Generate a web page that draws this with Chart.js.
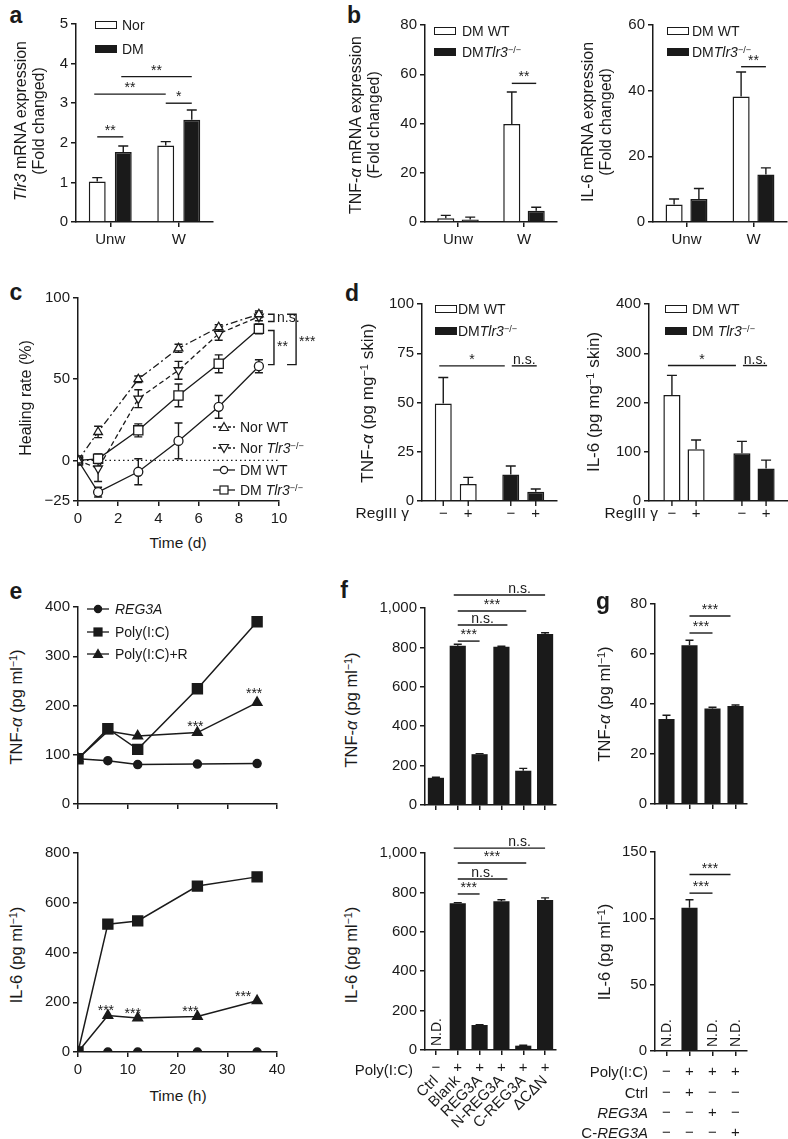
<!DOCTYPE html>
<html>
<head>
<meta charset="UTF-8">
<script src="https://cdn.jsdelivr.net/npm/chart.js"></script>
<style>
  body { margin: 0; background: #fff; }
  #fig { position: relative; width: 788px; height: 1139px; overflow: hidden;
         font-family: "Liberation Sans", Arial, Helvetica, sans-serif; color: #1a1a1a; }
  #fig canvas { position: absolute; }
  .t { position: absolute; white-space: nowrap; font-size: 14px; line-height: 18px; text-align: center; }
  .t sup { font-size: 0.65em; vertical-align: baseline; position: relative; top: -0.45em; }
  .sw { position: absolute; width: 22px; height: 8px; box-sizing: border-box; border: 1.5px solid #1a1a1a; }
  .sym { position: absolute; }
</style>
</head>
<body>
<div id="fig"></div>
<script>
// ---------- data ----------
// a
const uwCats = ['Unw', 'W'];
const tlr3Nor = [1.02, 1.93], tlr3NorErr = [0.1, 0.1];
const tlr3DM = [1.77, 2.58], tlr3DMErr = [0.15, 0.25];
// b
const tnfB_wt = [1.5, 39.8], tnfB_wtErr = [1.2, 13];
const tnfB_ko = [1.0, 4.6], tnfB_koErr = [1.0, 1.4];
const il6B_wt = [5.3, 38.2], il6B_wtErr = [1.7, 7.5];
const il6B_ko = [7.0, 14.5], il6B_koErr = [3.2, 2.0];
// c
const days = [0, 1, 3, 5, 7, 9];
const norWT = [0, 17.5, 50, 69, 82, 90], norWTErr = [0, 3.5, 2, 2.5, 1.5, 2];
const norKO = [0, -5, 38, 55.5, 78, 88.5], norKOErr = [0, 8, 5.5, 5.5, 4, 2.5];
const dmWT = [0, -19.5, -7, 12, 33, 58], dmWTErr = [0, 3, 8, 11, 7, 4];
const dmKO = [0, 1, 18.5, 40, 59.5, 81], dmKOErr = [0, 3, 4, 7, 5.5, 3];
// d  (RegIII gamma -, +)
const regSigns = ['\u2212', '+'];
const tnfD_wt = [49.5, 8.6], tnfD_wtErr = [13.2, 3.4];
const tnfD_ko = [13.4, 4.7], tnfD_koErr = [4.4, 1.4];
const il6D_wt = [215, 105], il6D_wtErr = [40, 19];
const il6D_ko = [97, 66], il6D_koErr = [24, 17];
// e
const hours = [0, 6, 12, 24, 36];
const tnfE_reg = [92, 88, 80, 81, 82];
const tnfE_pic = [92, 153, 111, 234, 370];
const tnfE_picR = [92, 148, 138, 145, 206];
const il6E_reg = [0, 0, 0, 0, 0];
const il6E_pic = [0, 514, 527, 667, 704];
const il6E_picR = [0, 147, 137, 143, 206];
// f
const fNames = ['Ctrl', 'Blank', 'REG3A', 'N-REG3A', 'C-REG3A', '\u0394C\u0394N'];
const fPoly = ['\u2212', '+', '+', '+', '+', '+'];
const tnfF = [138, 808, 258, 803, 174, 868], tnfFErr = [3, 8, 3, 3, 12, 6];
const il6F = [null, 745, 127, 755, 22, 762], il6FErr = [0, 3, 2, 8, 2, 10];
// g
const gPoly = ['\u2212', '+', '+', '+'];
const gCtrl = ['\u2212', '+', '\u2212', '\u2212'];
const gReg = ['\u2212', '\u2212', '+', '\u2212'];
const gCReg = ['\u2212', '\u2212', '\u2212', '+'];
const tnfG = [34, 63.5, 38.2, 39.2], tnfGErr = [1.5, 2, 0.5, 0.4];
const il6G = [null, 108, null, null], il6GErr = [0, 6, 0, 0];

// ---------- helpers ----------
const FF = '"Liberation Sans", Arial, Helvetica, sans-serif';
const INK = '#1a1a1a';
Chart.defaults.font.family = FF;
Chart.defaults.color = INK;
const fig = document.getElementById('fig');
const tickFont = { family: FF, size: 15 };
const minus = v => (v < 0 ? '\u2212' + Math.abs(v) : v.toLocaleString('en-US'));

// error bars, significance marks, brackets, N.D. labels
const extras = {
  id: 'extras',
  beforeDatasetsDraw(chart) {
    const o = chart.options.plugins.extras || {};
    const ctx = chart.ctx, ys = chart.scales.y, xs = chart.scales.x;
    ctx.save();
    ctx.strokeStyle = INK;
    if (o.zeroLine) {
      const y = ys.getPixelForValue(0);
      ctx.lineWidth = 1.4;
      ctx.setLineDash([1.5, 3]);
      ctx.beginPath();
      ctx.moveTo(xs.getPixelForValue(o.zeroLine[0]), y);
      ctx.lineTo(xs.getPixelForValue(o.zeroLine[1]), y);
      ctx.stroke();
      ctx.setLineDash([]);
    }
    ctx.lineWidth = 1.4;
    const cw = o.cap || 5;
    chart.data.datasets.forEach((ds, di) => {
      if (!ds.err) return;
      chart.getDatasetMeta(di).data.forEach((el, i) => {
        const raw = ds.data[i];
        const v = raw !== null && typeof raw === 'object' ? raw.y : raw;
        const e = ds.err[i];
        if (v == null || !e) return;
        (ds.errBoth ? [1, -1] : [1]).forEach(sg => {
          const y0 = ys.getPixelForValue(v), y1 = ys.getPixelForValue(v + sg * e);
          ctx.beginPath();
          ctx.moveTo(el.x, y0); ctx.lineTo(el.x, y1);
          ctx.moveTo(el.x - cw, y1); ctx.lineTo(el.x + cw, y1);
          ctx.stroke();
        });
      });
    });
    ctx.restore();
  },
  afterDatasetsDraw(chart) {
    const o = chart.options.plugins.extras || {};
    const ctx = chart.ctx, ys = chart.scales.y, xs = chart.scales.x, ca = chart.chartArea;
    ctx.save();
    ctx.strokeStyle = INK; ctx.fillStyle = INK; ctx.lineWidth = 1.4;
    ctx.font = '14px ' + FF;
    ctx.textAlign = 'center'; ctx.textBaseline = 'alphabetic';
    (o.sig || []).forEach(s => {
      const ea = chart.getDatasetMeta(s.a[0]).data[s.a[1]];
      const eb = chart.getDatasetMeta(s.b[0]).data[s.b[1]];
      const x1 = ea.x + (s.d1 || 0), x2 = eb.x + (s.d2 || 0), y = ys.getPixelForValue(s.y);
      ctx.beginPath(); ctx.moveTo(x1, y); ctx.lineTo(x2, y); ctx.stroke();
      ctx.fillText(s.t, x1 + (x2 - x1) * (s.tx == null ? 0.5 : s.tx), y - 2);
    });
    (o.stars || []).forEach(s => {
      const el = chart.getDatasetMeta(s.ds).data[s.i];
      ctx.fillText('***', el.x + (s.dx || 0), el.y - s.dy);
    });
    (o.brackets || []).forEach(b => {
      const x1 = xs.getPixelForValue(b.x1), x2 = xs.getPixelForValue(b.x2);
      const y1 = ys.getPixelForValue(b.y1), y2 = ys.getPixelForValue(b.y2);
      ctx.beginPath();
      ctx.moveTo(x1, y1); ctx.lineTo(x2, y1); ctx.lineTo(x2, y2); ctx.lineTo(x1, y2);
      ctx.stroke();
      ctx.textAlign = 'left'; ctx.textBaseline = 'middle';
      ctx.fillText(b.t, x2 + 3, (y1 + y2) / 2 + (b.ty || 0));
    });
    (o.nd || []).forEach(i => {
      ctx.save();
      ctx.translate(xs.getPixelForValue(i), ca.bottom - 4);
      ctx.rotate(-Math.PI / 2);
      ctx.textAlign = 'left'; ctx.textBaseline = 'middle';
      ctx.fillText('N.D.', 0, 1);
      ctx.restore();
    });
    if (o.barTicks) {
      ctx.font = '15px ' + FF;
      ctx.textAlign = 'center'; ctx.textBaseline = 'middle';
      chart.data.datasets.forEach((ds, di) => {
        chart.getDatasetMeta(di).data.forEach(el => {
          ctx.beginPath(); ctx.moveTo(el.x, ca.bottom); ctx.lineTo(el.x, ca.bottom + 5); ctx.stroke();
          ctx.fillText(ds.label, el.x, ca.bottom + 13);
        });
      });
    }
    ctx.restore();
  }
};

function yScale(min, max, step, extra) {
  return Object.assign({
    min, max,
    ticks: { stepSize: step, color: INK, font: tickFont, padding: 3, callback: minus },
    grid: { drawOnChartArea: false, drawTicks: true, tickLength: 5, color: INK, lineWidth: 1.5 },
    border: { color: INK, width: 1.5 }
  }, extra || {});
}
function xCat(tickExtra, gridExtra) {
  return {
    type: 'category', offset: true,
    ticks: Object.assign({ color: INK, font: tickFont, padding: 4, maxRotation: 0, autoSkip: false }, tickExtra || {}),
    grid: Object.assign({ offset: false, drawOnChartArea: false, drawTicks: true, tickLength: 5, color: INK, lineWidth: 1.5 }, gridExtra || {}),
    border: { color: INK, width: 1.5 }
  };
}
function xLin(min, max, step, cb) {
  const t = { stepSize: step, color: INK, font: tickFont, padding: 4 };
  if (cb) t.callback = cb;
  return {
    type: 'linear', min, max, ticks: t,
    grid: { drawOnChartArea: false, drawTicks: true, tickLength: 5, color: INK, lineWidth: 1.5 },
    border: { color: INK, width: 1.5 }
  };
}

// rect = plot area in page pixels, m = [left, top, right, bottom] margins around it
function chartAt(rect, m, cfg, xh) {
  const w = rect.r - rect.l + m[0] + m[2];
  const h = rect.b - rect.t + m[1] + m[3];
  const cv = document.createElement('canvas');
  cv.width = w; cv.height = h;
  cv.style.left = (rect.l - m[0]) + 'px';
  cv.style.top = (rect.t - m[1]) + 'px';
  cv.style.width = w + 'px'; cv.style.height = h + 'px';
  fig.appendChild(cv);
  const o = cfg.options;
  o.responsive = false; o.animation = false; o.devicePixelRatio = 1;
  o.layout = { padding: { left: 0, top: m[1], right: m[2], bottom: 0 } };
  o.plugins = Object.assign({ legend: { display: false }, tooltip: { enabled: false } }, o.plugins || {});
  o.scales.y.afterFit = s => { s.width = m[0]; };
  const hs = xh || { x: m[3] };
  Object.keys(hs).forEach(k => { o.scales[k].afterFit = s => { s.height = hs[k]; }; });
  cfg.plugins = [extras];
  return new Chart(cv, cfg);
}

function txt(html, x, y, opt) {
  opt = opt || {};
  const d = document.createElement('div');
  d.className = 't';
  d.innerHTML = html;
  d.style.left = x + 'px'; d.style.top = y + 'px';
  if (opt.fs) d.style.fontSize = opt.fs + 'px';
  if (opt.lh) d.style.lineHeight = opt.lh + 'px';
  if (opt.bold) d.style.fontWeight = 'bold';
  const ax = opt.al === 'r' ? '-100%' : opt.al === 'l' ? '0' : '-50%';
  d.style.transform = 'translate(' + ax + ',-50%)' + (opt.rot ? ' rotate(-90deg)' : '');
  fig.appendChild(d);
}
function swatch(x, y, fill) {
  const d = document.createElement('div');
  d.className = 'sw';
  d.style.left = x + 'px'; d.style.top = (y - 4) + 'px';
  d.style.background = fill;
  fig.appendChild(d);
}
function lineSym(x, y, dash, shape, filled) {
  const f = filled ? INK : '#fff';
  let mk = '';
  if (shape === 'circle') mk = '<circle cx="11" cy="7" r="3.6" fill="' + f + '" stroke="' + INK + '" stroke-width="1.2"/>';
  if (shape === 'rect') mk = '<rect x="7" y="3" width="8" height="8" fill="' + f + '" stroke="' + INK + '" stroke-width="1.2"/>';
  if (shape === 'tri') mk = '<polygon points="11,2.5 15.5,10.5 6.5,10.5" fill="' + f + '" stroke="' + INK + '" stroke-width="1.2"/>';
  if (shape === 'triDown') mk = '<polygon points="11,11.5 15.5,3.5 6.5,3.5" fill="' + f + '" stroke="' + INK + '" stroke-width="1.2"/>';
  const s = document.createElement('div');
  s.className = 'sym';
  s.style.left = x + 'px'; s.style.top = (y - 7) + 'px';
  s.innerHTML = '<svg width="22" height="14" xmlns="http://www.w3.org/2000/svg"><line x1="0" y1="7" x2="22" y2="7" stroke="' + INK +
    '" stroke-width="1.3"' + (dash ? ' stroke-dasharray="' + dash + '"' : '') + '/>' + mk + '</svg>';
  fig.appendChild(s);
}
const pts = (xv, yv) => xv.map((x, i) => ({ x, y: yv[i] }));
function barDs(label, data, err, fill) {
  return { label, data, err, backgroundColor: fill, borderColor: INK, borderWidth: 1.5 };
}
const KO = '<i>Tlr3</i><sup>\u2212/\u2212</sup>';
const TNFpg = 'TNF-<i>\u03b1</i> (pg ml<sup>\u22121</sup>)';
const IL6pg = 'IL-6 (pg ml<sup>\u22121</sup>)';

// ---------- a ----------
chartAt({ l: 76, r: 213, t: 24, b: 222 }, [50, 12, 12, 30], {
  type: 'bar',
  data: { labels: uwCats, datasets: [barDs('Nor', tlr3Nor, tlr3NorErr, '#fff'), barDs('DM', tlr3DM, tlr3DMErr, INK)] },
  options: {
    datasets: { bar: { categoryPercentage: 0.76, barPercentage: 0.65 } },
    scales: { x: xCat(), y: yScale(0, 5, 1) },
    plugins: { extras: { cap: 5, sig: [
      { a: [0, 0], b: [1, 0], y: 2.15, t: '**' },
      { a: [0, 0], b: [0, 1], y: 3.23, t: '**', d1: -3 },
      { a: [0, 1], b: [1, 1], y: 3.0, t: '*' },
      { a: [1, 0], b: [1, 1], y: 3.67, t: '**', d1: -2 }
    ] } }
  }
});

// ---------- b ----------
chartAt({ l: 425, r: 557, t: 25, b: 222 }, [45, 12, 10, 30], {
  type: 'bar',
  data: { labels: uwCats, datasets: [barDs('DM WT', tnfB_wt, tnfB_wtErr, '#fff'), barDs('DM Tlr3', tnfB_ko, tnfB_koErr, INK)] },
  options: {
    datasets: { bar: { categoryPercentage: 0.74, barPercentage: 0.7 } },
    scales: { x: xCat(), y: yScale(0, 80, 20) },
    plugins: { extras: { cap: 5, sig: [{ a: [0, 1], b: [1, 1], y: 56.3, t: '**' }] } }
  }
});
chartAt({ l: 653, r: 787, t: 25, b: 222 }, [45, 12, 4, 30], {
  type: 'bar',
  data: { labels: uwCats, datasets: [barDs('DM WT', il6B_wt, il6B_wtErr, '#fff'), barDs('DM Tlr3', il6B_ko, il6B_koErr, INK)] },
  options: {
    datasets: { bar: { categoryPercentage: 0.74, barPercentage: 0.69 } },
    scales: { x: xCat(), y: yScale(0, 60, 20) },
    plugins: { extras: { cap: 5, sig: [{ a: [0, 1], b: [1, 1], y: 47.3, t: '**' }] } }
  }
});

// ---------- c ----------
const lineBase = { borderColor: INK, borderWidth: 1.3, pointBackgroundColor: '#fff', pointBorderColor: INK,
  pointBorderWidth: 1.3, fill: false, tension: 0, errBoth: true };
chartAt({ l: 78, r: 279, t: 298, b: 501 }, [50, 12, 52, 28], {
  type: 'line',
  data: { datasets: [
    Object.assign({ label: 'Nor WT', data: pts(days, norWT), err: norWTErr, borderDash: [7, 3, 2, 3], pointStyle: 'triangle', pointRadius: 5 }, lineBase),
    Object.assign({ label: 'Nor Tlr3', data: pts(days, norKO), err: norKOErr, borderDash: [5, 3], pointStyle: 'triangle', pointRotation: 180, pointRadius: 5 }, lineBase),
    Object.assign({ label: 'DM WT', data: pts(days, dmWT), err: dmWTErr, pointStyle: 'circle', pointRadius: 4.5 }, lineBase),
    Object.assign({ label: 'DM Tlr3', data: pts(days, dmKO), err: dmKOErr, pointStyle: 'rect', pointRadius: 6.5 }, lineBase)
  ] },
  options: {
    scales: {
      x: xLin(0, 10, 2),
      y: yScale(-25, 100, 25, {
        afterBuildTicks: s => { s.ticks = [-25, 0, 50, 100].map(v => ({ value: v })); }
      })
    },
    plugins: { extras: { cap: 4, zeroLine: [0, 10], brackets: [
      { x1: 9.45, x2: 9.75, y1: 90, y2: 85.5, t: 'n.s.' },
      { x1: 9.45, x2: 9.75, y1: 80, y2: 59, t: '**' },
      { x1: 10.4, x2: 10.85, y1: 90, y2: 59, t: '***', ty: 3 }
    ] } }
  }
});

// ---------- d ----------
function dPanel(rect, m, wt, wtErr, ko, koErr, max, step, sigY, cp, bp) {
  const cols = ['#fff', INK];
  chartAt(rect, m, {
    type: 'bar',
    data: { labels: ['WT', 'KO'], datasets: regSigns.map((lab, k) => ({
      label: lab, data: [wt[k], ko[k]], err: [wtErr[k], koErr[k]],
      backgroundColor: cols, borderColor: INK, borderWidth: 1.5
    })) },
    options: {
      datasets: { bar: { categoryPercentage: cp, barPercentage: bp } },
      scales: { x: xCat({ display: false }, { drawTicks: false }), y: yScale(0, max, step) },
      plugins: { extras: { cap: 5, barTicks: true, sig: [
        { a: [0, 0], b: [0, 1], y: sigY, t: '*', d1: -4, d2: -6 },
        { a: [0, 1], b: [1, 1], y: sigY, t: 'n.s.', d1: 1, d2: 1 }
      ] } }
    }
  });
}
dPanel({ l: 422, r: 557, t: 304, b: 501 }, [45, 12, 10, 30], tnfD_wt, tnfD_wtErr, tnfD_ko, tnfD_koErr, 100, 25, 68.6, 0.74, 0.68);
dPanel({ l: 649, r: 789, t: 304, b: 501 }, [45, 12, 4, 30], il6D_wt, il6D_wtErr, il6D_ko, il6D_koErr, 400, 100, 275, 0.69, 0.71);

// ---------- e ----------
function eDs(label, yv, style, r) {
  return { label, data: pts(hours, yv), borderColor: INK, borderWidth: 1.5, pointStyle: style, pointRadius: r,
    pointBackgroundColor: INK, pointBorderColor: INK, fill: false, tension: 0 };
}
chartAt({ l: 78, r: 277, t: 607, b: 804 }, [50, 12, 14, 12], {
  type: 'line',
  data: { datasets: [eDs('REG3A', tnfE_reg, 'circle', 4), eDs('Poly(I:C)', tnfE_pic, 'rect', 7), eDs('Poly(I:C)+R', tnfE_picR, 'triangle', 5.5)] },
  options: {
    scales: { x: xLin(0, 40, 10, () => ''), y: yScale(0, 400, 100) },
    plugins: { extras: { stars: [{ ds: 2, i: 3, dy: 2, dx: -2 }, { ds: 2, i: 4, dy: 5, dx: -3 }] } }
  }
});
chartAt({ l: 78, r: 277, t: 853, b: 1052 }, [50, 12, 14, 30], {
  type: 'line',
  data: { datasets: [eDs('REG3A', il6E_reg, 'circle', 4), eDs('Poly(I:C)', il6E_pic, 'rect', 7), eDs('Poly(I:C)+R', il6E_picR, 'triangle', 5.5)] },
  options: {
    scales: { x: xLin(0, 40, 10), y: yScale(0, 800, 200) },
    plugins: { extras: { stars: [
      { ds: 2, i: 1, dy: 0, dx: -2 }, { ds: 2, i: 2, dy: 0, dx: -5 },
      { ds: 2, i: 3, dy: 0, dx: -7 }, { ds: 2, i: 4, dy: 0, dx: -14 }
    ] } }
  }
});

// ---------- f ----------
const blackBar = { backgroundColor: INK, borderWidth: 0, barPercentage: 0.74, categoryPercentage: 1 };
chartAt({ l: 425, r: 556, t: 608, b: 805 }, [52, 32, 10, 12], {
  type: 'bar',
  data: { labels: fNames, datasets: [Object.assign({ label: 'TNF', data: tnfF, err: tnfFErr }, blackBar)] },
  options: {
    scales: { x: xCat({ callback: () => '' }), y: yScale(0, 1000, 200) },
    plugins: { extras: { cap: 4, sig: [
      { a: [0, 1], b: [0, 2], y: 832, t: '***' },
      { a: [0, 1], b: [0, 3], y: 914, t: 'n.s.', d2: 6 },
      { a: [0, 1], b: [0, 4], y: 985, t: '***', d2: 3 },
      { a: [0, 1], b: [0, 5], y: 1066, t: 'n.s.', d1: -4, tx: 0.72 }
    ] } }
  }
});
chartAt({ l: 425, r: 556, t: 853, b: 1050 }, [52, 32, 10, 89], {
  type: 'bar',
  data: { labels: fPoly, datasets: [Object.assign({ label: 'IL-6', data: il6F, err: il6FErr }, blackBar)] },
  options: {
    scales: {
      x: xCat(),
      x2: { type: 'category', labels: fNames, position: 'bottom', offset: true,
        grid: { display: false, drawTicks: false }, border: { display: false },
        ticks: { minRotation: 45, maxRotation: 45, autoSkip: false, padding: 0, color: INK, font: tickFont } },
      y: yScale(0, 1000, 200)
    },
    plugins: { extras: { cap: 4, nd: [0], sig: [
      { a: [0, 1], b: [0, 2], y: 792, t: '***' },
      { a: [0, 1], b: [0, 3], y: 868, t: 'n.s.', d2: 6 },
      { a: [0, 1], b: [0, 4], y: 949, t: '***', d2: 3 },
      { a: [0, 1], b: [0, 5], y: 1025, t: 'n.s.', d1: -4, tx: 0.72 }
    ] } }
  }
}, { x: 22, x2: 67 });

// ---------- g ----------
chartAt({ l: 655, r: 747, t: 604, b: 804 }, [47, 12, 10, 12], {
  type: 'bar',
  data: { labels: gPoly, datasets: [Object.assign({ label: 'TNF', data: tnfG, err: tnfGErr }, blackBar, { barPercentage: 0.7 })] },
  options: {
    scales: { x: xCat({ callback: () => '' }), y: yScale(0, 80, 20) },
    plugins: { extras: { cap: 4, sig: [
      { a: [0, 1], b: [0, 2], y: 68.4, t: '***' },
      { a: [0, 1], b: [0, 3], y: 75.2, t: '***', d2: -5 }
    ] } }
  }
});
chartAt({ l: 655, r: 747, t: 852, b: 1051 }, [47, 12, 10, 88], {
  type: 'bar',
  data: { labels: gPoly.map((p, i) => [p, gCtrl[i], gReg[i], gCReg[i]]),
    datasets: [Object.assign({ label: 'IL-6', data: il6G, err: il6GErr }, blackBar, { barPercentage: 0.7 })] },
  options: {
    scales: { x: xCat({ font: { family: FF, size: 15, lineHeight: 1.35 }, padding: 6 }), y: yScale(0, 150, 50) },
    plugins: { extras: { cap: 4, nd: [0, 2, 3], sig: [
      { a: [0, 1], b: [0, 2], y: 119, t: '***' },
      { a: [0, 1], b: [0, 3], y: 133, t: '***', d2: -5 }
    ] } }
  }
});

// ---------- text: panel letters ----------
[['a', 16, 15], ['b', 354, 15], ['c', 16, 292], ['d', 352, 293], ['e', 16, 591], ['f', 344, 590], ['g', 603, 601]]
  .forEach(([s, x, y]) => txt(s, x, y, { bold: true, fs: 23 }));

// axis titles
txt('<i>Tlr3</i> mRNA expression<br>(Fold changed)', 30, 121, { rot: true, fs: 16 });
txt('TNF-<i>\u03b1</i> mRNA expression<br>(Fold changed)', 365, 125, { rot: true, fs: 16 });
txt('IL-6 mRNA expression<br>(Fold changed)', 597, 122, { rot: true, fs: 16 });
txt('Healing rate (%)', 26, 398, { rot: true, fs: 16 });
txt('Time (d)', 178, 543, { fs: 15.5 });
txt('TNF-<i>\u03b1</i> (pg mg<sup>\u22121</sup> skin)', 368, 403, { rot: true, fs: 17 });
txt('IL-6 (pg mg<sup>\u22121</sup> skin)', 594, 402, { rot: true, fs: 17 });
txt('RegIII \u03b3', 409, 513, { al: 'r', fs: 15.5 });
txt('RegIII \u03b3', 658, 513, { al: 'r', fs: 15.5 });
txt(TNFpg, 17, 707, { rot: true, fs: 16.5 });
txt(IL6pg, 17, 955, { rot: true, fs: 16.5 });
txt('Time (h)', 178, 1096, { fs: 15.5 });
txt(TNFpg, 352, 710, { rot: true, fs: 16.5 });
txt(IL6pg, 352, 955, { rot: true, fs: 16.5 });
txt(TNFpg, 605, 704, { rot: true, fs: 16.5 });
txt(IL6pg, 605, 952, { rot: true, fs: 16.5 });
txt('Poly(I:C)', 413, 1070, { al: 'r', fs: 15 });
txt('Poly(I:C)', 648, 1072, { al: 'r', fs: 15 });
txt('Ctrl', 648, 1093, { al: 'r', fs: 15 });
txt('<i>REG3A</i>', 648, 1113, { al: 'r', fs: 15 });
txt('C-<i>REG3A</i>', 648, 1133, { al: 'r', fs: 15 });

// legends
swatch(95, 25, '#fff'); txt('Nor', 122, 25, { al: 'l' });
swatch(95, 48.5, INK); txt('DM', 122, 48.5, { al: 'l' });
swatch(434, 31, '#fff'); txt('DM WT', 462, 31, { al: 'l' });
swatch(434, 52, INK); txt('DM' + KO, 462, 53, { al: 'l' });
swatch(667, 31, '#fff'); txt('DM WT', 692, 31, { al: 'l' });
swatch(667, 52, INK); txt('DM' + KO, 692, 53, { al: 'l' });
swatch(435, 309, '#fff'); txt('DM WT', 458, 309, { al: 'l' });
swatch(435, 331, INK); txt('DM' + KO, 458, 332, { al: 'l' });
swatch(665, 309, '#fff'); txt('DM WT', 692, 309, { al: 'l' });
swatch(665, 331, INK); txt('DM ' + KO, 692, 332, { al: 'l' });

lineSym(213, 427, '3,2', 'tri', false); txt('Nor WT', 240, 427, { al: 'l' });
lineSym(213, 448, '3,2', 'triDown', false); txt('Nor ' + KO, 240, 449, { al: 'l' });
lineSym(213, 470, '', 'circle', false); txt('DM WT', 240, 470, { al: 'l' });
lineSym(213, 490, '', 'rect', false); txt('DM ' + KO, 240, 491, { al: 'l' });

lineSym(87, 609, '', 'circle', true); txt('<i>REG3A</i>', 115, 609, { al: 'l' });
lineSym(87, 632, '', 'rect', true); txt('Poly(I:C)', 115, 632, { al: 'l' });
lineSym(87, 654, '', 'tri', true); txt('Poly(I:C)+R', 115, 654, { al: 'l' });
</script>
</body>
</html>
